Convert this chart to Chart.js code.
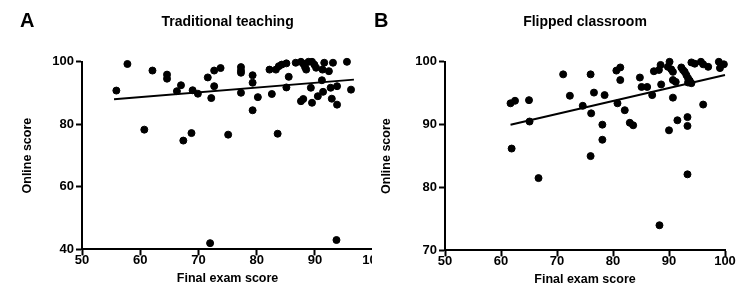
<!DOCTYPE html>
<html>
<head>
<meta charset="utf-8">
<script src="https://cdn.jsdelivr.net/npm/chart.js@4"></script>
<style>
  body { margin: 0; background: #fff; font-family: "Liberation Sans", Arial, sans-serif; }
  .wrap { position: absolute; top: 0; width: 372px; height: 300px; overflow: hidden; }
  .letter { position: absolute; top: 10px; font: bold 20px/20px "Liberation Sans", Arial, sans-serif; color: #000; }
</style>
</head>
<body>
<div class="wrap" style="left:0"><canvas id="chartA" width="381" height="300"></canvas></div>
<div class="wrap" style="left:372px"><canvas id="chartB" width="372" height="300"></canvas></div>
<div class="letter" style="left:20px">A</div>
<div class="letter" style="left:374px">B</div>
<script>
// Traditional teaching
const tradExam = [55.9,57.8,60.7,62.1,64.6,64.6,66.3,67.0,67.4,68.8,69.0,69.9,71.6,72.7,73.8,72.7,72.2,72.0,75.1,77.3,77.3,77.3,77.3,79.3,79.3,79.3,80.2,82.2,82.6,83.3,83.8,84.3,83.6,85.1,85.5,85.1,86.7,87.6,88.0,88.3,88.5,88.9,89.5,89.9,90.2,91.6,93.1,95.5,91.3,92.4,89.3,91.2,92.7,93.8,96.2,91.4,90.5,87.6,88.0,89.5,92.9,93.8,93.7];
const tradOnline = [90.8,99.3,78.3,97.2,95.9,94.6,90.6,92.5,74.8,77.2,90.9,89.8,95.0,97.2,98.0,92.2,88.4,42.0,76.7,98.3,97.2,96.5,90.1,95.7,93.3,84.5,88.7,97.5,89.7,97.5,98.6,99.1,77.0,99.5,95.2,91.8,99.7,100,99.4,98.3,97.5,100,100,99.1,98.1,99.7,99.7,100,97.5,97.0,91.7,94.1,91.7,92.2,91.1,90.4,89.0,87.4,88.1,86.9,88.2,86.3,43.0];
const tradFitX = [55.5, 96.7];
const tradFitY = [88.0, 94.3];

// Flipped classroom
const flipExam = [61.7,62.5,61.9,65.0,65.1,66.7,71.1,72.3,74.6,76.0,76.1,76.0,76.6,78.5,78.1,78.1,80.6,81.3,81.3,80.8,82.1,83.0,83.6,84.8,85.1,86.1,87.0,87.3,88.2,88.5,88.6,88.3,90.1,89.8,90.4,90.7,90.7,91.2,90.7,90.0,91.5,92.2,92.5,92.8,93.1,93.4,93.7,93.4,94.0,93.3,93.3,93.3,94.0,94.6,95.7,96.1,97.0,96.1,98.9,99.1,99.8];
const flipOnline = [93.4,93.8,86.2,93.9,90.5,81.5,98.0,94.6,93.0,98.0,91.8,85.0,95.1,94.7,90.0,87.6,98.6,99.1,97.1,93.4,92.3,90.3,89.9,97.5,96.0,96.0,94.7,98.5,98.7,99.5,96.4,74.0,100,99.2,98.8,98.4,97.1,96.8,94.3,89.1,90.7,99.1,98.7,98.4,97.9,97.4,97.0,96.7,96.6,91.2,89.8,82.1,99.9,99.7,100,99.6,99.2,93.2,100,99.0,99.6];
const flipFitX = [61.7, 100];
const flipFitY = [90.0, 97.9];

const xTicks = [50, 60, 70, 80, 90, 100];
const tradYTicks = [40, 60, 80, 100];
const flipYTicks = [70, 80, 90, 100];

const FONT = '"Liberation Sans", Arial, sans-serif';

function pts(xs, ys) {
  return xs.map((x, i) => ({ x: x, y: ys[i] }));
}

function axis(ticks, title, extra) {
  return Object.assign({
    min: ticks[0],
    max: ticks[ticks.length - 1],
    afterBuildTicks: s => { s.ticks = ticks.map(v => ({ value: v })); },
    grid: { display: true, drawOnChartArea: false, drawTicks: true, tickLength: 6, tickWidth: 2, tickColor: '#000' },
    border: { display: true, color: '#000', width: 2 },
    ticks: { color: '#000', font: { family: FONT, size: 13, weight: 'bold' } },
    title: { display: true, text: title, color: '#000', font: { family: FONT, size: 12.5, weight: 'bold' } }
  }, extra || {});
}

function makeChart(id, title, xs, ys, fx, fy, yTicks, yWidth, padding) {
  new Chart(document.getElementById(id), {
    type: 'scatter',
    data: {
      datasets: [
        { data: pts(xs, ys), backgroundColor: '#000', borderColor: '#000', pointRadius: 3.5, pointHoverRadius: 3.5, clip: false },
        { type: 'line', data: pts(fx, fy), borderColor: '#000', borderWidth: 2, pointRadius: 0, fill: false, clip: false }
      ]
    },
    options: {
      responsive: false,
      animation: false,
      devicePixelRatio: 1,
      layout: { padding: padding },
      plugins: {
        legend: { display: false },
        tooltip: { enabled: false },
        title: {
          display: true, text: title, color: '#000', fullSize: false,
          font: { family: FONT, size: 14, weight: 'bold' },
          padding: { top: 0, bottom: 31 }
        }
      },
      scales: {
        x: axis(xTicks, 'Final exam score', {
          type: 'linear',
          ticks: { color: '#000', padding: -3, font: { family: FONT, size: 13, weight: 'bold' } },
          title: { display: true, text: 'Final exam score', color: '#000', padding: { top: 6, bottom: 2 }, font: { family: FONT, size: 12.5, weight: 'bold' } }
        }),
        y: axis(yTicks, 'Online score', { afterFit: s => { s.width = yWidth; }, ticks: { color: '#000', padding: 2, font: { family: FONT, size: 13, weight: 'bold' } } })
      }
    }
  });
}

makeChart('chartA', 'Traditional teaching', tradExam, tradOnline, tradFitX, tradFitY, tradYTicks, 66, { top: 14, left: 16, right: 0, bottom: 12 });
makeChart('chartB', 'Flipped classroom', flipExam, flipOnline, flipFitX, flipFitY, flipYTicks, 70, { top: 14, left: 3, right: 19, bottom: 11 });
</script>
</body>
</html>
